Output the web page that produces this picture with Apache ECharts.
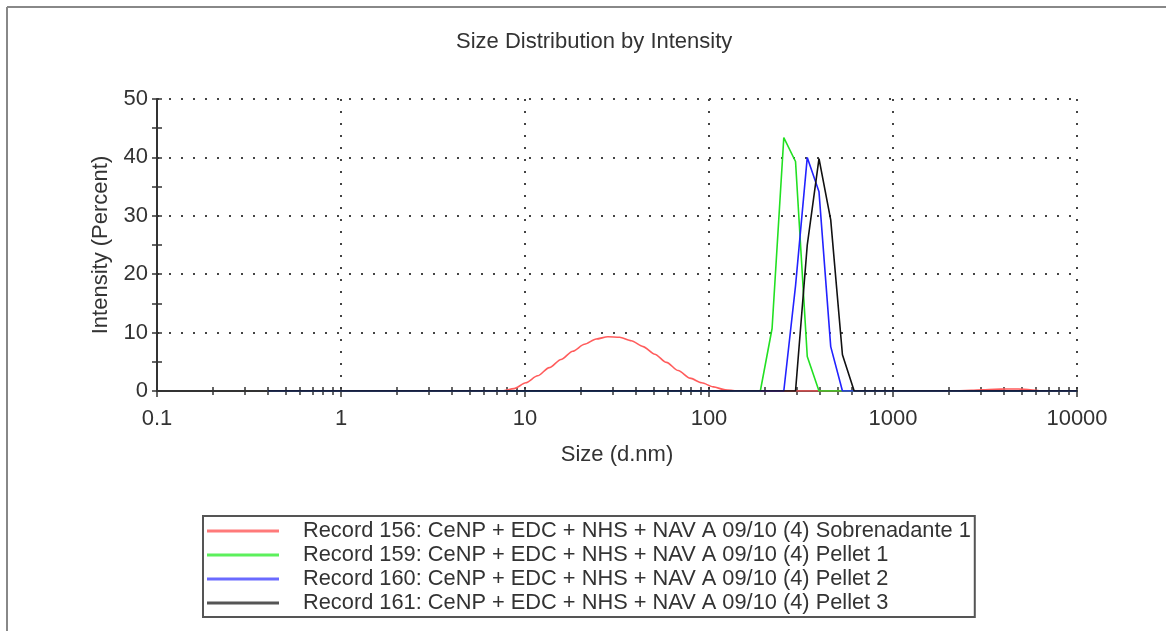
<!DOCTYPE html>
<html>
<head>
<meta charset="utf-8">
<script src="https://cdn.jsdelivr.net/npm/echarts@6/dist/echarts.min.js"></script>
<style>
  html, body { margin: 0; padding: 0; background: #fff; }
  #chart { width: 1166px; height: 631px; }
</style>
</head>
<body>
<div id="chart"></div>
<script>
// Size bins (d.nm)
const sizes = [
  0.4, 0.4632, 0.5365, 0.6213, 0.7195, 0.8332, 0.9649, 1.117, 1.294, 1.499,
  1.736, 2.01, 2.328, 2.696, 3.122, 3.615, 4.187, 4.849, 5.615, 6.503,
  7.531, 8.721, 10.1, 11.7, 13.54, 15.69, 18.17, 21.04, 24.36, 28.21,
  32.67, 37.84, 43.82, 50.75, 58.77, 68.06, 78.82, 91.28, 105.7, 122.4,
  141.8, 164.2, 190.1, 220.2, 255.0, 295.3, 342.0, 396.1, 458.7, 531.2,
  615.1, 712.4, 825.0, 955.4, 1106, 1281, 1484, 1718, 1990, 2305,
  2669, 3091, 3580, 4145, 4801, 5560, 6439, 7456, 8635, 10000
];

// Intensity (Percent) per bin
const rec156 = [
  0, 0, 0, 0, 0, 0, 0, 0, 0, 0,
  0, 0, 0, 0, 0, 0, 0, 0, 0, 0,
  0, 0.4, 1.4, 2.6, 4.0, 5.4, 6.8, 8.0, 8.9, 9.3,
  9.2, 8.6, 7.6, 6.3, 4.9, 3.5, 2.2, 1.4, 0.7, 0.2,
  0, 0, 0, 0, 0, 0, 0, 0, 0, 0,
  0, 0, 0, 0, 0, 0, 0, 0, 0, 0.05,
  0.1, 0.2, 0.3, 0.35, 0.35, 0.2, 0, 0, 0, 0
];
const rec159 = [
  0, 0, 0, 0, 0, 0, 0, 0, 0, 0,
  0, 0, 0, 0, 0, 0, 0, 0, 0, 0,
  0, 0, 0, 0, 0, 0, 0, 0, 0, 0,
  0, 0, 0, 0, 0, 0, 0, 0, 0, 0,
  0, 0, 0, 10.7, 43.4, 39.3, 5.9, 0, 0, 0,
  0, 0, 0, 0, 0, 0, 0, 0, 0, 0,
  0, 0, 0, 0, 0, 0, 0, 0, 0, 0
];
const rec160 = [
  0, 0, 0, 0, 0, 0, 0, 0, 0, 0,
  0, 0, 0, 0, 0, 0, 0, 0, 0, 0,
  0, 0, 0, 0, 0, 0, 0, 0, 0, 0,
  0, 0, 0, 0, 0, 0, 0, 0, 0, 0,
  0, 0, 0, 0, 0, 18.0, 40.0, 34.1, 7.6, 0,
  0, 0, 0, 0, 0, 0, 0, 0, 0, 0,
  0, 0, 0, 0, 0, 0, 0, 0, 0, 0
];
const rec161 = [
  0, 0, 0, 0, 0, 0, 0, 0, 0, 0,
  0, 0, 0, 0, 0, 0, 0, 0, 0, 0,
  0, 0, 0, 0, 0, 0, 0, 0, 0, 0,
  0, 0, 0, 0, 0, 0, 0, 0, 0, 0,
  0, 0, 0, 0, 0, 0, 25.0, 39.8, 29.3, 6.2,
  0, 0, 0, 0, 0, 0, 0, 0, 0, 0,
  0, 0, 0, 0, 0, 0, 0, 0, 0, 0
];

const seriesNames = [
  'Record 156: CeNP + EDC + NHS + NAV A 09/10 (4) Sobrenadante 1',
  'Record 159: CeNP + EDC + NHS + NAV A 09/10 (4) Pellet 1',
  'Record 160: CeNP + EDC + NHS + NAV A 09/10 (4) Pellet 2',
  'Record 161: CeNP + EDC + NHS + NAV A 09/10 (4) Pellet 3'
];
const seriesColors = ['#ff5c5c', '#22e022', '#2222ff', '#111111'];
const legendColors = ['#ff7a7a', '#5cf05c', '#6a6aff', '#555555'];

const xMajorTicks = [0.1, 1, 10, 100, 1000, 10000];
const xTickLabels = ['0.1', '1', '10', '100', '1000', '10000'];
const xMinorTicks = [
  0.2, 0.3, 0.4, 0.5, 0.6, 0.7, 0.8, 0.9,
  2, 3, 4, 5, 6, 7, 8, 9,
  20, 30, 40, 50, 60, 70, 80, 90,
  200, 300, 400, 500, 600, 700, 800, 900,
  2000, 3000, 4000, 5000, 6000, 7000, 8000, 9000
];
const yTicks = [0, 10, 20, 30, 40, 50];

const FONT = '"Liberation Sans", Arial, sans-serif';
const FS = 22;
const TXT = '#333';

const chart = echarts.init(document.getElementById('chart'), null, { renderer: 'canvas' });

const datasets = [rec156, rec159, rec160, rec161];
const series = datasets.map((vals, i) => ({
  name: seriesNames[i],
  type: 'line',
  xAxisIndex: 0,
  yAxisIndex: 0,
  symbol: 'none',
  smooth: i === 0 ? 0.25 : false,
  smoothMonotone: 'x',
  animation: false,
  lineStyle: { color: seriesColors[i], width: 1.6 },
  itemStyle: { color: legendColors[i] },
  z: 3 + i,
  data: sizes.map((s, k) => [s, vals[k]])
}));

const commonX = {
  type: 'log',
  logBase: 10,
  min: 0.1,
  max: 10000,
  position: 'bottom',
  offset: 0
};

const option = {
  backgroundColor: '#ffffff',
  animation: false,
  title: {
    text: 'Size Distribution by Intensity',
    left: 451,
    top: 26,
    textStyle: { fontFamily: FONT, fontSize: FS, fontWeight: 'normal', color: TXT }
  },
  legend: {
    orient: 'vertical',
    left: 203,
    top: 516,
    padding: [4, 4, 3, 4],
    icon: 'rect',
    itemWidth: 72,
    itemHeight: 3,
    itemGap: 2,
    borderColor: '#555',
    borderWidth: 2,
    textStyle: { fontFamily: FONT, fontSize: 21.8, color: TXT, lineHeight: 22, padding: [0, 0, 0, 19] },
    data: seriesNames
  },
  grid: { left: 157, right: 89, top: 99, bottom: 240, containLabel: false },
  xAxis: [
    Object.assign({}, commonX, {
      name: 'Size (d.nm)',
      nameLocation: 'middle',
      nameGap: 53,
      nameTextStyle: { fontFamily: FONT, fontSize: FS, color: TXT },
      axisLine: { show: true, lineStyle: { color: '#333', width: 2 } },
      axisTick: { show: true, length: 6, lineStyle: { color: '#333', width: 1.5 } },
      axisLabel: {
        fontFamily: FONT, fontSize: FS, color: TXT, margin: 17,
        formatter: (v) => {
          const idx = xMajorTicks.findIndex(t => Math.abs(Math.log10(t) - Math.log10(v)) < 1e-6);
          return idx >= 0 ? xTickLabels[idx] : '';
        }
      },
      splitLine: { show: true, lineStyle: { color: '#444', width: 2, type: [2, 10] } }
    }),
    Object.assign({}, commonX, {
      axisLine: { show: false },
      axisLabel: { show: false },
      splitLine: { show: false },
      axisTick: { show: true, length: 4, customValues: xMinorTicks, lineStyle: { color: '#333', width: 1.5 } }
    }),
    Object.assign({}, commonX, {
      axisLine: { show: false },
      axisLabel: { show: false },
      splitLine: { show: false },
      axisTick: { show: true, inside: true, length: 4, customValues: xMinorTicks.concat(xMajorTicks), lineStyle: { color: '#333', width: 1.5 } }
    })
  ],
  yAxis: [
    {
      type: 'value',
      min: 0,
      max: 50,
      interval: 10,
      position: 'left',
      name: 'Intensity (Percent)',
      nameLocation: 'middle',
      nameGap: 45,
      nameTextStyle: { fontFamily: FONT, fontSize: FS, color: TXT },
      axisLine: { show: true, lineStyle: { color: '#333', width: 2 } },
      axisTick: { show: true, length: 5, lineStyle: { color: '#333', width: 1.5 } },
      minorTick: { show: true, splitNumber: 2, length: 5, lineStyle: { color: '#333', width: 1.5 } },
      axisLabel: {
        fontFamily: FONT, fontSize: FS, color: TXT, margin: 9,
        formatter: (v) => { const i = yTicks.indexOf(v); return i >= 0 ? String(yTicks[i]) : ''; }
      },
      splitLine: { show: true, lineStyle: { color: '#444', width: 2, type: [2, 10] } }
    },
    {
      type: 'value',
      min: 0,
      max: 50,
      interval: 10,
      position: 'left',
      offset: 0,
      axisLine: { show: false },
      axisLabel: { show: false },
      splitLine: { show: false },
      axisTick: { show: true, inside: true, length: 5, lineStyle: { color: '#333', width: 1.5 } },
      minorTick: { show: true, splitNumber: 2, length: 5, lineStyle: { color: '#333', width: 1.5 } }
    }
  ],
  graphic: [
    { type: 'line', shape: { x1: 7, y1: 7, x2: 1166, y2: 7 }, style: { stroke: '#888', lineWidth: 2 }, silent: true },
    { type: 'line', shape: { x1: 7, y1: 7, x2: 7, y2: 631 }, style: { stroke: '#888', lineWidth: 2 }, silent: true }
  ],
  series: series
};

chart.setOption(option);
</script>
</body>
</html>
